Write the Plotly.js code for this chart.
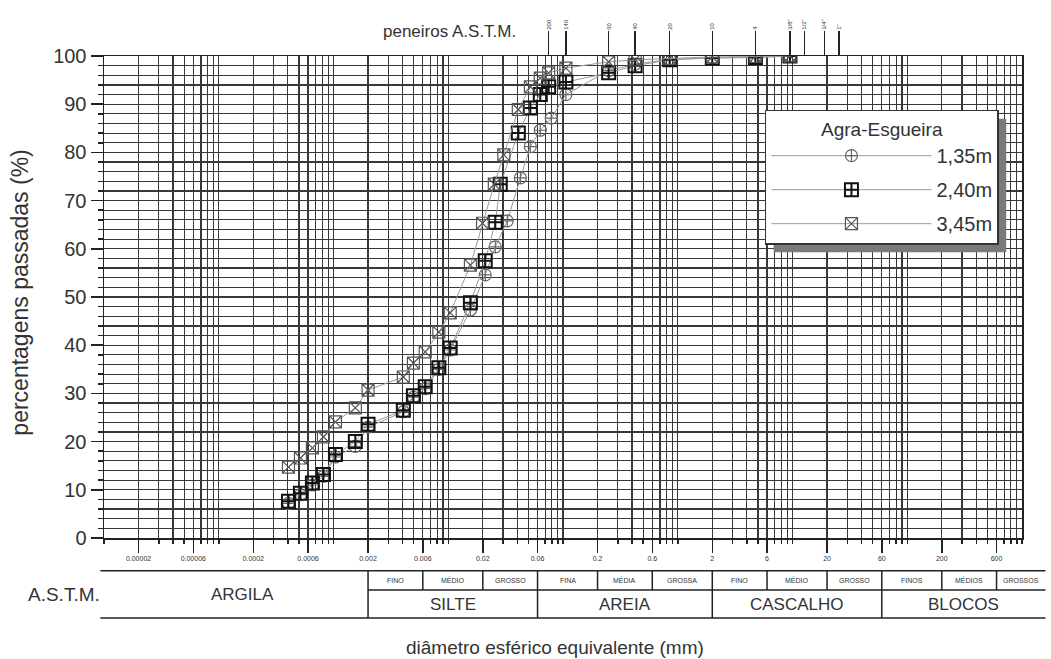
<!DOCTYPE html>
<html>
<head>
<meta charset="utf-8">
<script src="https://cdn.plot.ly/plotly-3.0.1.min.js"></script>
<style>html,body{margin:0;padding:0;background:#fff;}#chart{width:1051px;height:659px;}</style>
</head>
<body>
<div id="chart"></div>
<script>
// ---- data (diameters in mm, percentages passing) ----
const seriesNames = ["1,35m", "2,40m", "3,45m"];

const d135 = [0.000405, 0.000515, 0.000655, 0.000817, 0.00104, 0.00155, 0.0020, 0.00406, 0.00497, 0.0063, 0.00828, 0.0104, 0.0156, 0.0210, 0.0257, 0.0327, 0.0425, 0.0519, 0.0634, 0.079, 0.106, 0.25, 0.425, 0.85, 2.0, 4.75, 9.5];
const p135 = [7.2, 9.0, 11.0, 12.8, 16.8, 19.0, 23.0, 26.2, 29.2, 31.0, 35.0, 39.0, 47.3, 54.6, 60.4, 65.8, 74.7, 81.2, 84.6, 87.1, 92.0, 97.0, 98.3, 99.3, 99.6, 99.7, 100];

const d240 = [0.000405, 0.000515, 0.000655, 0.000817, 0.00104, 0.00155, 0.0020, 0.00406, 0.00497, 0.0063, 0.00828, 0.0104, 0.0156, 0.0210, 0.0257, 0.0284, 0.0408, 0.0519, 0.0634, 0.075, 0.106, 0.25, 0.425, 0.85, 2.0, 4.75, 9.5];
const p240 = [7.6, 9.3, 11.4, 13.2, 17.3, 20.0, 23.6, 26.5, 29.5, 31.4, 35.3, 39.4, 48.8, 57.5, 65.5, 73.4, 84.0, 89.2, 92.0, 93.6, 94.6, 96.5, 98.0, 99.2, 99.6, 99.7, 100];

const d345 = [0.000405, 0.000515, 0.000655, 0.000817, 0.00104, 0.00155, 0.0020, 0.00406, 0.00497, 0.0063, 0.00828, 0.0104, 0.0156, 0.0199, 0.0252, 0.0305, 0.0408, 0.052, 0.0634, 0.075, 0.106, 0.25, 0.425, 0.85, 2.0, 4.75, 9.5];
const p345 = [14.7, 16.6, 18.7, 21.0, 24.1, 27.0, 30.7, 33.4, 36.3, 38.6, 42.7, 46.7, 56.6, 65.3, 73.4, 79.5, 88.9, 93.6, 95.4, 96.5, 97.5, 98.8, 99.2, 99.5, 99.8, 99.9, 100];

// bottom axis tick labels
const xTickVals = [0.00002, 0.00006, 0.0002, 0.0006, 0.002, 0.006, 0.02, 0.06, 0.2, 0.6, 2, 6, 20, 60, 200, 600];
const xTickText = ["0.00002", "0.00006", "0.0002", "0.0006", "0.002", "0.006", "0.02", "0.06", "0.2", "0.6", "2", "6", "20", "60", "200", "600"];

// ASTM sieves (top axis)
const sieveSizes = [0.075, 0.106, 0.25, 0.425, 0.85, 2.0, 4.75, 9.5, 12.7, 19.0, 25.4];
const sieveLabels = ["200", "140", "60", "40", "20", "10", "4", "3/8\"", "1/2\"", "3/4\"", "1\""];

// A.S.T.M. classification table
const mainClasses = ["ARGILA", "SILTE", "AREIA", "CASCALHO", "BLOCOS"];
const mainBounds = [0.00001, 0.002, 0.06, 2, 60, 1600];
const subClasses = ["FINO", "MÉDIO", "GROSSO", "FINA", "MÉDIA", "GROSSA", "FINO", "MÉDIO", "GROSSO", "FINOS", "MÉDIOS", "GROSSOS"];
const subBounds = [0.002, 0.006, 0.02, 0.06, 0.2, 0.6, 2, 6, 20, 60, 200, 600, 1600];

// ---- layout helpers ----
const FONT = "Liberation Sans, Arial, sans-serif";
const LOGMIN = -5, LOGMAX = 3;
const px = v => (Math.log10(v) - LOGMIN) / (LOGMAX - LOGMIN);
const TXT = "#333";

const yTop = -0.068, yMid = -0.108, yBot = -0.166;
const shapes = [];
const annotations = [];
const lineStyle = {color: "#222", width: 1.5};
const tableEnd = px(mainBounds[mainBounds.length - 1]);

shapes.push({type: "line", xref: "paper", yref: "paper", x0: -0.004, x1: tableEnd, y0: yTop, y1: yTop, line: lineStyle});
shapes.push({type: "line", xref: "paper", yref: "paper", x0: px(0.002), x1: tableEnd, y0: yMid, y1: yMid, line: lineStyle});
shapes.push({type: "line", xref: "paper", yref: "paper", x0: -0.004, x1: tableEnd, y0: yBot, y1: yBot, line: lineStyle});
mainBounds.slice(1, -1).forEach(b => {
  shapes.push({type: "line", xref: "paper", yref: "paper", x0: px(b), x1: px(b), y0: yTop, y1: yBot, line: lineStyle});
});
subBounds.slice(1, -1).forEach(b => {
  if (mainBounds.indexOf(b) < 0)
    shapes.push({type: "line", xref: "paper", yref: "paper", x0: px(b), x1: px(b), y0: yTop, y1: yMid, line: lineStyle});
});
mainClasses.forEach((c, i) => {
  let xc = (px(mainBounds[i]) + px(mainBounds[i + 1])) / 2;
  let yc = (yMid + yBot) / 2;
  if (i === 0) { xc = px(0.00016); yc = (yTop + yBot) / 2; }
  annotations.push({xref: "paper", yref: "paper", x: xc, y: yc, xanchor: "center", yanchor: "middle", text: c, showarrow: false,
    font: {family: FONT, size: 17, color: TXT}});
});
subClasses.forEach((c, i) => {
  annotations.push({xref: "paper", yref: "paper", x: (px(subBounds[i]) + px(subBounds[i + 1])) / 2, y: (yTop + yMid) / 2,
    xanchor: "center", yanchor: "middle", text: c, showarrow: false, font: {family: FONT, size: 7, color: TXT}});
});
annotations.push({xref: "paper", yref: "paper", x: -0.044, y: (yTop + yBot) / 2, xanchor: "center", yanchor: "middle",
  text: "A.S.T.M.", showarrow: false, font: {family: FONT, size: 19, color: TXT}});
annotations.push({xref: "paper", yref: "paper", x: 0.491, y: -0.228, xanchor: "center", yanchor: "middle",
  text: "diâmetro esférico equivalente (mm)", showarrow: false, font: {family: FONT, size: 19, color: TXT}});
annotations.push({xref: "paper", yref: "paper", x: 0.376, y: 1.05, xanchor: "center", yanchor: "middle",
  text: "peneiros A.S.T.M.", showarrow: false, font: {family: FONT, size: 17, color: TXT}});
annotations.push({xref: "paper", yref: "paper", x: -0.091, y: 0.51, xanchor: "center", yanchor: "middle",
  text: "percentagens passadas (%)", showarrow: false, textangle: -90, font: {family: FONT, size: 23, color: TXT}});

const gridColor = "#383838";

const traces = [
  {x: d135, y: p135, name: seriesNames[0], legendgroup: "a", mode: "lines+markers", type: "scatter",
   line: {color: "#9a9a9a", width: 1},
   marker: {symbol: "circle-cross-open", size: 12, color: "#666", line: {width: 1.2, color: "#666"}}},
  {x: d240, y: p240, name: seriesNames[1], legendgroup: "b", mode: "lines+markers", type: "scatter",
   line: {color: "#9a9a9a", width: 1},
   marker: {symbol: "square-cross-open", size: 13, color: "#111", line: {width: 2, color: "#111"}}},
  {x: d345, y: p345, name: seriesNames[2], legendgroup: "c", mode: "lines+markers", type: "scatter",
   line: {color: "#9a9a9a", width: 1},
   marker: {symbol: "square-x-open", size: 12, color: "#555", line: {width: 1.2, color: "#555"}}},
  {x: sieveSizes, y: sieveSizes.map(() => null), xaxis: "x2", yaxis: "y", mode: "markers", showlegend: false, hoverinfo: "skip"}
];

const layout = {
  width: 1051, height: 659,
  margin: {l: 104, r: 29, t: 56, b: 121},
  paper_bgcolor: "#fff", plot_bgcolor: "#fff",
  font: {family: FONT, color: TXT},
  showlegend: true,
  legend: {
    x: 0.72, y: 0.888, xanchor: "left", yanchor: "top",
    bgcolor: "#fff", bordercolor: "#333", borderwidth: 1.5,
    font: {family: FONT, size: 20, color: TXT},
    title: {text: "Agra-Esgueira", side: "top center", font: {family: FONT, size: 19, color: TXT}},
    itemwidth: 160, traceorder: "grouped", tracegroupgap: 5
  },
  xaxis: {
    type: "log", range: [LOGMIN, LOGMAX], autorange: false,
    tickmode: "array", tickvals: xTickVals, ticktext: xTickText,
    ticks: "outside", ticklen: 13, tickwidth: 1.5, tickcolor: "#222",
    tickfont: {family: FONT, size: 7, color: TXT},
    showgrid: true, gridcolor: gridColor, gridwidth: 1.2,
    minor: {dtick: "D1", showgrid: true, gridcolor: gridColor, gridwidth: 1.2, ticks: "outside", ticklen: 4, tickcolor: "#222"},
    showline: true, linecolor: "#222", linewidth: 1.5, mirror: true, zeroline: false
  },
  xaxis2: {
    type: "log", range: [LOGMIN, LOGMAX], autorange: false, overlaying: "x", side: "top", anchor: "y",
    tickmode: "array", tickvals: sieveSizes, ticktext: sieveLabels,
    ticks: "outside", ticklen: 24, tickwidth: 1.5, tickcolor: "#222", tickangle: -90,
    tickfont: {family: FONT, size: 6, color: TXT},
    showgrid: false, showline: false, zeroline: false
  },
  yaxis: {
    range: [0, 100], autorange: false, dtick: 10, tick0: 0,
    ticks: "outside", ticklen: 12, tickwidth: 1.5, tickcolor: "#222",
    tickfont: {family: FONT, size: 20, color: TXT},
    showgrid: true, gridcolor: gridColor, gridwidth: 1.2,
    minor: {dtick: 2, showgrid: true, gridcolor: gridColor, gridwidth: 1.2, ticks: "outside", ticklen: 5, tickcolor: "#222"},
    showline: true, linecolor: "#222", linewidth: 1.5, mirror: true, zeroline: false
  },
  shapes: shapes,
  annotations: annotations
};

const gd = document.getElementById("chart");
Plotly.newPlot(gd, traces, layout, {displayModeBar: false, staticPlot: true}).then(() => {
  // drop shadow behind the legend box, placed from the legend's drawn size
  const bg = gd.querySelector(".legend .bg");
  if (!bg) return;
  const r = bg.getBoundingClientRect();
  const c = gd.getBoundingClientRect();
  const fl = gd._fullLayout._size;
  const off = 8;
  const toPx = X => (X - c.left - fl.l) / fl.w;
  const toPy = Y => 1 - (Y - c.top - fl.t) / fl.h;
  const shadow = {type: "rect", xref: "paper", yref: "paper", layer: "above",
    x0: toPx(r.left + off), x1: toPx(r.right + off), y0: toPy(r.bottom + off), y1: toPy(r.top + off),
    fillcolor: "#7a7a7a", line: {width: 0}};
  Plotly.relayout(gd, {shapes: shapes.concat([shadow])});
});
</script>
</body>
</html>
